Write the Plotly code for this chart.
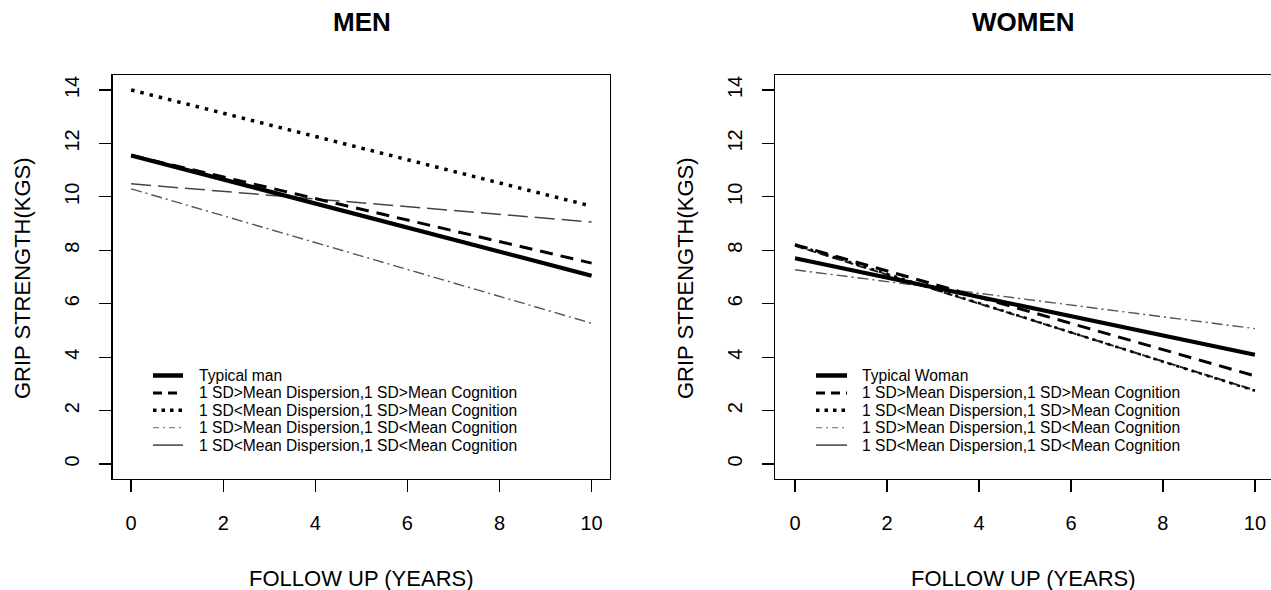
import plotly.graph_objects as go

# ---------------- data ----------------
years = [0, 10]

men_labels = [
    "Typical man",
    "1 SD>Mean Dispersion,1 SD>Mean Cognition",
    "1 SD<Mean Dispersion,1 SD>Mean Cognition",
    "1 SD>Mean Dispersion,1 SD<Mean Cognition",
    "1 SD<Mean Dispersion,1 SD<Mean Cognition",
]
women_labels = [
    "Typical Woman",
    "1 SD>Mean Dispersion,1 SD>Mean Cognition",
    "1 SD<Mean Dispersion,1 SD>Mean Cognition",
    "1 SD>Mean Dispersion,1 SD<Mean Cognition",
    "1 SD<Mean Dispersion,1 SD<Mean Cognition",
]

men_typical = [11.55, 7.05]
men_hi_disp_hi_cog = [11.55, 7.52]
men_lo_disp_hi_cog = [14.0, 9.65]
men_hi_disp_lo_cog = [10.3, 5.27]
men_lo_disp_lo_cog = [10.49, 9.06]

women_typical = [7.70, 4.09]
women_hi_disp_hi_cog = [8.21, 3.30]
women_lo_disp_hi_cog = [8.21, 2.74]
women_hi_disp_lo_cog = [7.27, 5.07]
women_lo_disp_lo_cog = [8.17, 2.76]

y_ticks = [0, 2, 4, 6, 8, 10, 12, 14]
x_ticks = [0, 2, 4, 6, 8, 10]

# ---------------- styles ----------------
men_styles = [
    dict(color="black", width=4.2, dash="solid"),
    dict(color="black", width=3, dash="13px,8px"),
    dict(color="black", width=3.5, dash="3.5px,6px"),
    dict(color="#555555", width=1.4, dash="11px,4px,2px,4px"),
    dict(color="#444444", width=1.5, dash="20px,7px"),
]
women_styles = [
    dict(color="black", width=4.2, dash="solid"),
    dict(color="black", width=3, dash="13px,8px"),
    dict(color="black", width=2.6, dash="3px,5px"),
    dict(color="#555555", width=1.4, dash="11px,4px,2px,4px"),
    dict(color="#222222", width=2.0, dash="9px,4px"),
]
legend_styles = [
    dict(color="black", width=4.5, dash="solid"),
    dict(color="black", width=3, dash="9px,6px"),
    dict(color="black", width=3.5, dash="3.5px,5px"),
    dict(color="#888888", width=1.2, dash="6px,4px,2px,4px"),
    dict(color="#333333", width=1.4, dash="solid"),
]

FONT = "Liberation Sans, Arial, Helvetica, sans-serif"
FW, FH = 1271, 590


def fx(px):
    """screen x pixel -> paper fraction"""
    return px / FW


def fy(py):
    """screen y pixel (from top) -> paper fraction"""
    return 1 - py / FH


fig = go.Figure()

men_series = [men_typical, men_hi_disp_hi_cog, men_lo_disp_hi_cog,
              men_hi_disp_lo_cog, men_lo_disp_lo_cog]
women_series = [women_typical, women_hi_disp_hi_cog, women_lo_disp_hi_cog,
                women_hi_disp_lo_cog, women_lo_disp_lo_cog]

order = [4, 3, 2, 1, 0]
for i in order:
    fig.add_trace(go.Scatter(x=years, y=men_series[i], mode="lines", name=men_labels[i],
                             line=men_styles[i], showlegend=False,
                             xaxis="x", yaxis="y", hoverinfo="skip"))
    fig.add_trace(go.Scatter(x=years, y=women_series[i], mode="lines", name=women_labels[i],
                             line=women_styles[i], showlegend=False,
                             xaxis="x2", yaxis="y2", hoverinfo="skip"))

ydom = [fy(479), fy(75)]

axis_common = dict(
    showgrid=False, zeroline=False, showline=True, linecolor="black", linewidth=1.3,
    ticks="outside", ticklen=12, tickwidth=1.3, tickcolor="black",
    tickfont=dict(family=FONT, size=20, color="black"), automargin=False,
)


def centered(text, x, y, size, angle=0):
    return dict(text=text, x=fx(x), y=fy(y), xref="paper", yref="paper",
                xanchor="center", yanchor="middle", textangle=angle,
                showarrow=False, font=dict(family=FONT, size=size, color="black"))


annotations = [
    centered("<b>MEN</b>", 361.5, 22, 26),
    centered("<b>WOMEN</b>", 1023.5, 22, 26),
    centered("FOLLOW UP (YEARS)", 361.5, 578, 22),
    centered("FOLLOW UP (YEARS)", 1023.5, 578, 22),
    centered("GRIP STRENGTH(KGS)", 22, 278, 22, -90),
    centered("GRIP STRENGTH(KGS)", 685, 278, 22, -90),
]

# manual legends (R-style, no box)
shapes = []
row_y0, row_dy = 375.5, 17.4
for labels, sx0, sx1, tx in [(men_labels, 153, 183, 197), (women_labels, 816, 847, 860)]:
    for i, lab in enumerate(labels):
        yy = row_y0 + row_dy * i
        shapes.append(dict(type="line", xref="paper", yref="paper",
                           x0=fx(sx0), x1=fx(sx1), y0=fy(yy), y1=fy(yy),
                           line=legend_styles[i]))
        annotations.append(dict(text=lab, x=fx(tx), y=fy(yy), xref="paper", yref="paper",
                                xanchor="left", yanchor="middle", showarrow=False,
                                font=dict(family=FONT, size=15.6, color="black")))

fig.update_layout(
    width=FW, height=FH,
    margin=dict(l=0, r=0, t=0, b=0),
    paper_bgcolor="white", plot_bgcolor="white",
    font=dict(family=FONT, color="black"),
    showlegend=False,
    hovermode=False,
    xaxis=dict(domain=[fx(112.7), fx(610)], range=[-0.4, 10.4],
               tickvals=x_ticks, mirror=True, anchor="y",
               ticklabelstandoff=14, **axis_common),
    yaxis=dict(domain=ydom, range=[-0.56, 14.56], tickvals=y_ticks,
               mirror=True, anchor="x", tickangle=-90,
               ticklabelstandoff=12, **axis_common),
    xaxis2=dict(domain=[fx(775), 1.0], range=[-0.435, 10.35],
                tickvals=x_ticks, mirror=True, anchor="y2",
                ticklabelstandoff=14, **axis_common),
    yaxis2=dict(domain=ydom, range=[-0.56, 14.56], tickvals=y_ticks,
                mirror=False, anchor="x2", tickangle=-90,
                ticklabelstandoff=12, **axis_common),
    annotations=annotations,
    shapes=shapes,
)

fig.write_html(
    "out.html",
    config={"displayModeBar": False, "staticPlot": True},
    post_script=(
        "document.documentElement.style.margin='0';"
        "document.body.style.margin='0';"
        "document.documentElement.style.overflow='hidden';"
        "document.body.style.overflow='hidden';"
    ),
)
